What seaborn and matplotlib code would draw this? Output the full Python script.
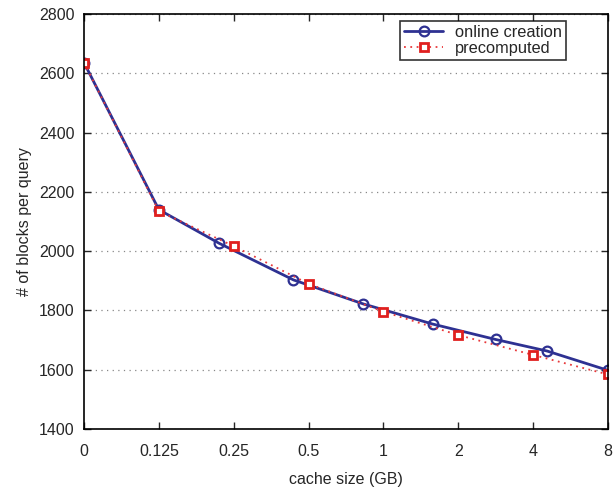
import numpy as np
import pandas as pd
import matplotlib
matplotlib.use("Agg")
import matplotlib.pyplot as plt
import seaborn as sns

# data (cache size in GB, blocks per query)
online_gb = [0, 0.125, 0.218, 0.435, 0.83, 1.58, 2.83, 4.56, 8]
online_blocks = [2636, 2140, 2027, 1903, 1822, 1754, 1702, 1663, 1598]

precomp_gb = [0, 0.125, 0.25, 0.5, 1, 2, 4, 8]
precomp_blocks = [2636, 2135, 2017, 1890, 1796, 1717, 1650, 1584]

tick_gb = [0, 0.125, 0.25, 0.5, 1, 2, 4, 8]
tick_labels = ["0", "0.125", "0.25", "0.5", "1", "2", "4", "8"]

df_online = pd.DataFrame({"gb": online_gb, "blocks": online_blocks})
df_pre = pd.DataFrame({"gb": precomp_gb, "blocks": precomp_blocks})

sns.set_style("ticks")
plt.rcParams["font.family"] = ["Liberation Sans", "DejaVu Sans"]

blue = "#2e3192"
red = "#e0201f"

fig = plt.figure(figsize=(6.14, 4.93), dpi=100)
ax = fig.add_axes([0.1368, 0.1298, 0.8532, 0.8418])

# log2 axis where "0" sits one step left of 0.125
def fwd(x):
    return np.log2(np.maximum(x, 1 / 16)) + 4

def inv(p):
    return 2.0 ** (p - 4)

ax.set_xscale("function", functions=(fwd, inv))

sns.lineplot(data=df_online, x="gb", y="blocks", ax=ax, color=blue, lw=2,
             marker="o", markersize=7, markerfacecolor="none",
             markeredgecolor=blue, markeredgewidth=1.6, label="online creation")
sns.lineplot(data=df_pre, x="gb", y="blocks", ax=ax, color="#e8383a", lw=1.3,
             linestyle=(0, (1, 2.5)), marker="s", markersize=5.5,
             markerfacecolor="white", markeredgecolor=red, markeredgewidth=2,
             label="precomputed")

ax.set_xlim(0, 8)
ax.set_ylim(1400, 2800)
ax.set_xticks(tick_gb)
ax.set_xticklabels(tick_labels)
ax.set_yticks(range(1400, 2801, 200))
ax.minorticks_off()

ax.yaxis.grid(True, linestyle=(0, (1, 3.5)), color="#888888", lw=0.9)
ax.tick_params(direction="in", top=True, right=True, length=5, width=1,
               labelsize=11.5, pad=7)
ax.tick_params(axis="x", pad=11)
for s in ax.spines.values():
    s.set_linewidth(1.2)
    s.set_color("black")

ax.set_xlabel("cache size (GB)", fontsize=11.5, labelpad=9)
ax.set_ylabel("# of blocks per query", fontsize=11.5, labelpad=5)

leg = ax.legend(loc="upper right", bbox_to_anchor=(0.92, 0.983), fontsize=11.8,
                frameon=True, fancybox=False, edgecolor="black",
                borderaxespad=0, handlelength=2.4, handletextpad=0.7,
                borderpad=0.25, labelspacing=0.05)
leg.get_frame().set_linewidth(1.2)

fig.savefig("out.png", dpi=100)
